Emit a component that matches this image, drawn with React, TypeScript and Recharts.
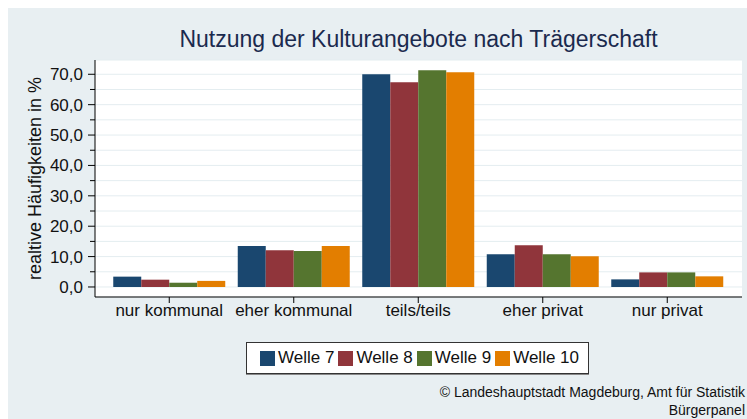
import React from 'react';
import {
  BarChart,
  Bar,
  XAxis,
  YAxis,
  CartesianGrid,
  Legend,
  Label,
} from 'recharts';

const categories = ['nur kommunal', 'eher kommunal', 'teils/teils', 'eher privat', 'nur privat'];
const welle7 = [3.4, 13.5, 70.0, 10.8, 2.5];
const welle8 = [2.4, 12.1, 67.4, 13.7, 4.8];
const welle9 = [1.4, 11.8, 71.3, 10.8, 4.8];
const welle10 = [2.0, 13.5, 70.7, 10.1, 3.5];
const seriesNames = ['Welle 7', 'Welle 8', 'Welle 9', 'Welle 10'];
const yTicks = [0, 5, 10, 15, 20, 25, 30, 35, 40, 45, 50, 55, 60, 65, 70];

const colors = ['#1a476f', '#90353b', '#55752f', '#e37e00'];
const font = '"Liberation Sans", Arial, sans-serif';

const data = categories.map((name, i) => ({
  name,
  w7: welle7[i],
  w8: welle8[i],
  w9: welle9[i],
  w10: welle10[i],
}));

const YTick = (props: any) => {
  const { x, y, payload } = props;
  const major = payload.value % 10 === 0;
  return (
    <g>
      <line x1={x + (major ? 5 : 7)} x2={x + 12} y1={y} y2={y} stroke="#000" />
      {major && (
        <text x={x} y={y} dy="0.35em" textAnchor="end" fontSize={17} fill="#111" fontFamily={font}>
          {payload.value.toFixed(1).replace('.', ',')}
        </text>
      )}
    </g>
  );
};

// keep the legend in series order (recharts sorts by name otherwise)
const renderLegend = (props: any) => {
  const items = seriesNames.map((name) => props.payload.find((p: any) => p.value === name)).filter(Boolean);
  return (
    <div
      style={{
        boxSizing: 'border-box',
        width: 343,
        height: 32,
        background: '#fff',
        border: '1px solid #333',
        boxShadow: '0 1px 0 #888',
        display: 'flex',
        alignItems: 'center',
        paddingLeft: 13,
        fontFamily: font,
        fontSize: 17,
        color: '#111',
      }}
    >
      {items.map((entry: any) => (
        <div key={entry.value} style={{ display: 'flex', alignItems: 'center', marginRight: 4 }}>
          <span style={{ width: 15, height: 15, background: entry.color, marginRight: 3, display: 'inline-block' }} />
          <span style={{ whiteSpace: 'nowrap' }}>{entry.value}</span>
        </div>
      ))}
    </div>
  );
};

export default function App() {
  return (
    <div
      style={{
        position: 'fixed',
        left: 8,
        top: 8,
        width: 739,
        height: 411,
        background: '#e8eff2',
        overflow: 'hidden',
        fontFamily: font,
      }}
    >
      <BarChart
        width={739}
        height={411}
        data={data}
        margin={{ top: 52, right: 5, left: 0, bottom: 92 }}
        barCategoryGap={6.25}
        barGap={0}
      >
        <CartesianGrid vertical={false} stroke="#e4edf0" fill="#fff" />
        <XAxis
          dataKey="name"
          height={30}
          interval={0}
          padding={{ left: 12, right: 12.5 }}
          axisLine={{ stroke: '#000' }}
          tickLine={{ stroke: '#000' }}
          tickSize={6}
          tickMargin={1}
          tick={{ fontSize: 17, fill: '#111', fontFamily: font }}
        />
        <YAxis
          type="number"
          width={87}
          domain={[-3.3, 74.7]}
          allowDataOverflow
          ticks={yTicks}
          interval={0}
          axisLine={{ stroke: '#000' }}
          tickLine={false}
          tickSize={7}
          tickMargin={5}
          tick={<YTick />}
        >
          <Label
            value="realtive Häufigkeiten in %"
            angle={-90}
            position="center"
            dx={-17}
            style={{ fontSize: 18, fill: '#111', fontFamily: font }}
          />
        </YAxis>
        <Legend
          layout="horizontal"
          verticalAlign="middle"
          align="center"
          itemSorter={null}
          wrapperStyle={{ left: 238, top: 334, width: 343, height: 32 }}
          content={renderLegend}
        />
        <Bar dataKey="w7" name={seriesNames[0]} fill={colors[0]} legendType="square" isAnimationActive={false} />
        <Bar dataKey="w8" name={seriesNames[1]} fill={colors[1]} legendType="square" isAnimationActive={false} />
        <Bar dataKey="w9" name={seriesNames[2]} fill={colors[2]} legendType="square" isAnimationActive={false} />
        <Bar dataKey="w10" name={seriesNames[3]} fill={colors[3]} legendType="square" isAnimationActive={false} />
      </BarChart>
      <svg
        width={739}
        height={411}
        style={{ position: 'absolute', left: 0, top: 0, pointerEvents: 'none' }}
      >
        <text x={410.5} y={39} textAnchor="middle" fontSize={23} fill="#1b2a4e" fontFamily={font}>
          Nutzung der Kulturangebote nach Trägerschaft
        </text>
        <text x={737} y={389.3} textAnchor="end" fontSize={14} fill="#111" fontFamily={font}>
          © Landeshauptstadt Magdeburg, Amt für Statistik
        </text>
        <text x={737} y={407} textAnchor="end" fontSize={14} fill="#111" fontFamily={font}>
          Bürgerpanel
        </text>
      </svg>
    </div>
  );
}
